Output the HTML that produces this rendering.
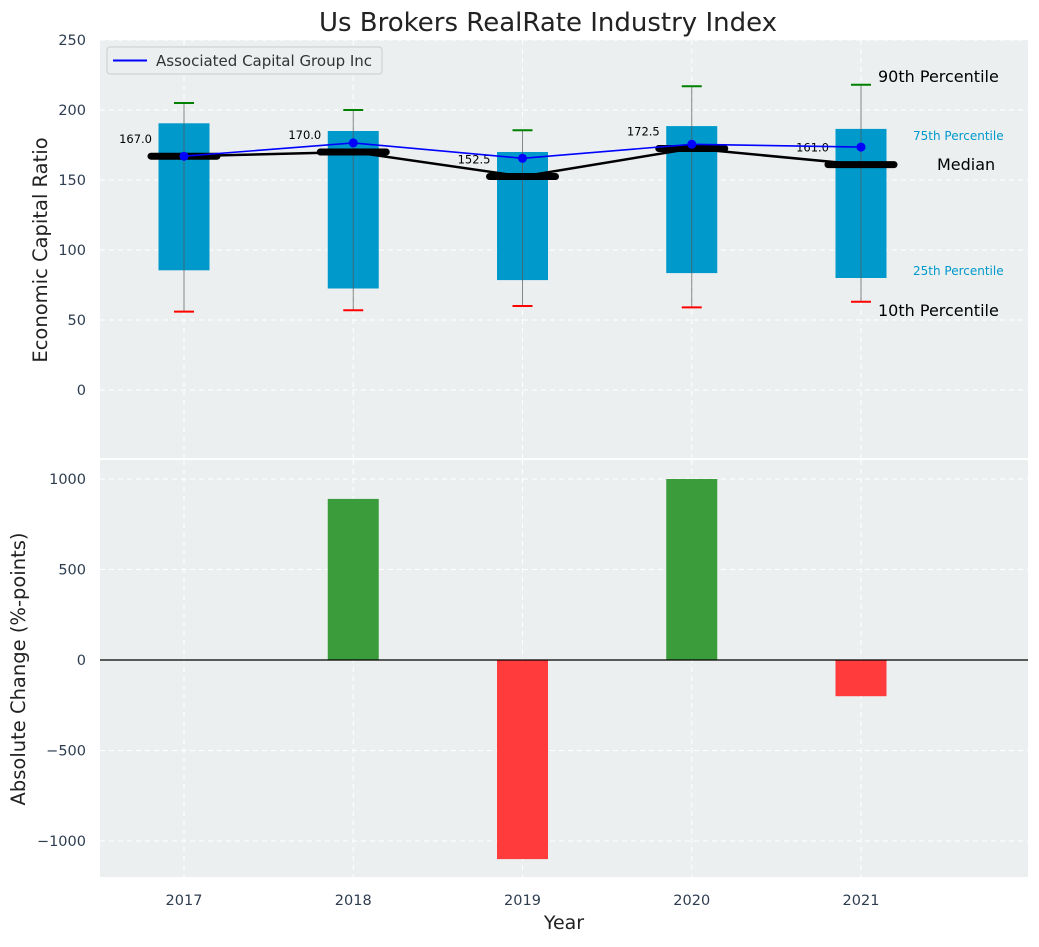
<!DOCTYPE html>
<html><head><meta charset="utf-8"><style>
body{margin:0;background:#fff;font-family:"Liberation Sans","DejaVu Sans",sans-serif}
svg text{font-family:"DejaVu Sans","Liberation Sans",sans-serif}
</style></head><body>
<svg id="c" width="1039" height="942" xmlns="http://www.w3.org/2000/svg"></svg>
<script>
const years=[2017,2018,2019,2020,2021];
const p10=[56,57,60,59,63];
const p25=[85.5,72.5,78.5,83.5,80];
const p75=[190.5,185,170,188.5,186.5];
const p90=[205,200,185.5,217,218];
const medians=[167,170,152.5,172.5,161];
const company=[167,176.5,165.5,175.5,173.5];
const changes=[0,890,-1100,1000,-200];
const topTicks=[0,50,100,150,200,250];
const botTicks=[-1000,-500,0,500,1000];

const NS="http://www.w3.org/2000/svg";
const svg=document.getElementById('c');
function el(t,a,parent){const e=document.createElementNS(NS,t);for(const k in a)e.setAttribute(k,a[k]);(parent||svg).appendChild(e);return e;}
const L=100,R=1028;
const x=v=>184+(v-2017)*169.25;
const T0=40,T1=458; const yT=v=>390-v*1.4;
const B0=460,B1=877; const yB=v=>660-v*0.181;
const pw=51;

let t=el('text',{x:548,y:31,'font-size':26,'text-anchor':'middle',fill:'#222'});t.textContent='Us Brokers RealRate Industry Index';


let bg=el('rect',{x:L,y:T0,width:R-L,height:T1-T0,fill:'#ebeff0'});

let bg2=el('rect',{x:L,y:B0,width:R-L,height:B1-B0,fill:'#ebeff0'});


topTicks.forEach(v=>{
  const g=el('line',{x1:L,x2:R,y1:yT(v),y2:yT(v),stroke:'#fff','stroke-dasharray':'5,4'});
  
  const tx=el('text',{x:86,y:yT(v)+5,'font-size':14.5,'text-anchor':'end',fill:'#2e3d50'});tx.textContent=v;
  
});
botTicks.forEach(v=>{
  const g=el('line',{x1:L,x2:R,y1:yB(v),y2:yB(v),stroke:'#fff','stroke-dasharray':'5,4'});
  
  const tx=el('text',{x:86,y:yB(v)+5,'font-size':14.5,'text-anchor':'end',fill:'#2e3d50'});tx.textContent=v<0?'\u2212'+(-v):v;
  
});
years.forEach(yr=>{
  [[T0,T1],[B0,B1]].forEach(r=>{
    const g=el('line',{x1:x(yr),x2:x(yr),y1:r[0],y2:r[1],stroke:'#fff','stroke-dasharray':'5,4'});
    
  });
  const tx=el('text',{x:x(yr),y:905,'font-size':14.5,'text-anchor':'middle',fill:'#2e3d50'});tx.textContent=yr;
  
});

years.forEach((yr,i)=>{
  const cx=x(yr);
  const b=el('rect',{x:cx-pw/2,y:yT(p75[i]),width:pw,height:yT(p25[i])-yT(p75[i]),fill:'#0099cc'});
  
  const w=el('line',{x1:cx,x2:cx,y1:yT(p90[i]),y2:yT(p10[i]),stroke:'#555','stroke-width':1,'stroke-opacity':0.7});
  
  const c1=el('line',{x1:cx-10,x2:cx+10,y1:yT(p90[i]),y2:yT(p90[i]),stroke:'green','stroke-width':2});
  
  const c2=el('line',{x1:cx-10,x2:cx+10,y1:yT(p10[i]),y2:yT(p10[i]),stroke:'red','stroke-width':2});
  
});
const mp=el('polyline',{points:years.map((yr,i)=>x(yr)+','+yT(medians[i])).join(' '),fill:'none',stroke:'#000','stroke-width':2.5});

years.forEach((yr,i)=>{
  const cx=x(yr);
  const m=el('line',{x1:cx-33,x2:cx+33,y1:yT(medians[i]),y2:yT(medians[i]),stroke:'#000','stroke-width':7,'stroke-linecap':'round'});
  
  const tx=el('text',{x:cx-32,y:yT(medians[i])-13,'font-size':11.5,'text-anchor':'end',fill:'#000'});tx.textContent=medians[i].toFixed(1);
  
});
const cp=el('polyline',{points:years.map((yr,i)=>x(yr)+','+yT(company[i])).join(' '),fill:'none',stroke:'#0000ff','stroke-width':1.6});

years.forEach((yr,i)=>{
  const d=el('circle',{cx:x(yr),cy:yT(company[i]),r:4.5,fill:'#0000ff'});
  
});

[['90th Percentile',878,82,16,'#000'],['75th Percentile',913,140,12,'#0099cc'],['Median',937,170,16,'#000'],['25th Percentile',913,275,12,'#0099cc'],['10th Percentile',878,316,16,'#000']].forEach(a=>{
  const tx=el('text',{x:a[1],y:a[2],'font-size':a[3],fill:a[4]});tx.textContent=a[0];
  
});

const lg=el('g',{});
el('rect',{x:107,y:47,width:275,height:27,rx:3,fill:'#ebeff0',stroke:'#ccc'},lg);
el('line',{x1:113,x2:147,y1:60.5,y2:60.5,stroke:'#0000ff','stroke-width':2},lg);
const lt=el('text',{x:156,y:66,'font-size':15,fill:'#333'},lg);lt.textContent='Associated Capital Group Inc';

years.forEach((yr,i)=>{
  const v=changes[i];
  const r=el('rect',{x:x(yr)-pw/2,y:Math.min(yB(v),yB(0)),width:pw,height:Math.abs(yB(v)-yB(0)),fill:v>=0?'#3a9c3a':'#ff3b3b'});
  
});
const zl=el('line',{x1:L,x2:R,y1:yB(0),y2:yB(0),stroke:'#000','stroke-width':1.2});


let a1=el('text',{x:0,y:0,'font-size':19.5,'text-anchor':'middle',fill:'#222',transform:'translate(47,250) rotate(-90)'});a1.textContent='Economic Capital Ratio';

let a2=el('text',{x:0,y:0,'font-size':19.5,'text-anchor':'middle',fill:'#222',transform:'translate(25,669) rotate(-90)'});a2.textContent='Absolute Change (%-points)';

let a3=el('text',{x:564,y:929,'font-size':19,'text-anchor':'middle',fill:'#222'});a3.textContent='Year';

</script>
</body></html>
